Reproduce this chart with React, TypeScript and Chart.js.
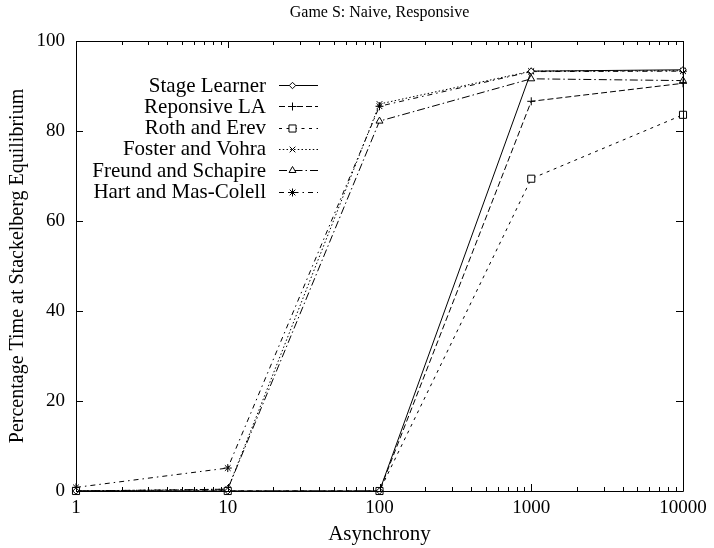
import React, { useEffect, useRef } from 'react';
import { Chart, registerables } from 'chart.js';

Chart.register(...registerables);

// Asynchrony levels (log axis) and percentage of time at the Stackelberg equilibrium
const asynchrony = [1, 10, 100, 1000, 10000];
const stageLearner = [0, 0, 0, 93.3, 93.6];
const reponsiveLA = [0, 0, 0, 86.6, 90.6];
const rothErev = [0, 0, 0, 69.4, 83.6];
const fosterVohra = [0, 0.4, 86.0, 93.3, 93.4];
const freundSchapire = [0, 0.4, 82.2, 91.6, 91.2];
const hartMasColell = [0.8, 5.1, 85.5, 93.2, 93.3];

const seriesNames = [
  'Stage Learner',
  'Reponsive LA',
  'Roth and Erev',
  'Foster and Vohra',
  'Freund and Schapire',
  'Hart and Mas-Colell',
];
const seriesValues = [stageLearner, reponsiveLA, rothErev, fosterVohra, freundSchapire, hartMasColell];

const yTicks = [0, 20, 40, 60, 80, 100];
const xTicks = asynchrony;

const chartTitle = 'Game S: Naive, Responsive';
const xTitle = 'Asynchrony';
const yTitle = 'Percentage Time at Stackelberg Equilibrium';

const FONT = '"Liberation Serif", "Times New Roman", serif';
const TICK_SIZE = 19;
const KEY_SIZE = 21;
const TITLE_SIZE = 16;

type LineStyle = { dash: number[]; marker: 'rectRot' | 'cross' | 'rect' | 'crossRot' | 'triangle' | 'star'; radius: number };

const lineStyles: LineStyle[] = [
  { dash: [], marker: 'rectRot', radius: 3.2 },
  { dash: [6, 3], marker: 'cross', radius: 4 },
  { dash: [3, 4.5], marker: 'rect', radius: 5 },
  { dash: [1.5, 2.25], marker: 'crossRot', radius: 4 },
  { dash: [8, 3, 1.5, 3], marker: 'triangle', radius: 4 },
  { dash: [5, 4, 1.5, 4], marker: 'star', radius: 4 },
];

function drawMarker(ctx: CanvasRenderingContext2D, kind: LineStyle['marker'], x: number, y: number, r: number) {
  ctx.save();
  ctx.setLineDash([]);
  ctx.lineWidth = 1;
  ctx.strokeStyle = '#000';
  ctx.fillStyle = '#fff';
  ctx.beginPath();
  const d = r * Math.SQRT1_2;
  switch (kind) {
    case 'rectRot':
      ctx.moveTo(x, y - r);
      ctx.lineTo(x + r, y);
      ctx.lineTo(x, y + r);
      ctx.lineTo(x - r, y);
      ctx.closePath();
      ctx.fill();
      ctx.stroke();
      break;
    case 'rect':
      ctx.rect(x - d, y - d, 2 * d, 2 * d);
      ctx.fill();
      ctx.stroke();
      break;
    case 'triangle': {
      const h = r * 1.5;
      ctx.moveTo(x, y - r);
      ctx.lineTo(x + h / Math.sqrt(3), y + r / 2);
      ctx.lineTo(x - h / Math.sqrt(3), y + r / 2);
      ctx.closePath();
      ctx.fill();
      ctx.stroke();
      break;
    }
    case 'cross':
      ctx.moveTo(x - r, y);
      ctx.lineTo(x + r, y);
      ctx.moveTo(x, y - r);
      ctx.lineTo(x, y + r);
      ctx.stroke();
      break;
    case 'crossRot':
      ctx.moveTo(x - d, y - d);
      ctx.lineTo(x + d, y + d);
      ctx.moveTo(x - d, y + d);
      ctx.lineTo(x + d, y - d);
      ctx.stroke();
      break;
    case 'star':
      ctx.moveTo(x - r, y);
      ctx.lineTo(x + r, y);
      ctx.moveTo(x, y - r);
      ctx.lineTo(x, y + r);
      ctx.moveTo(x - d, y - d);
      ctx.lineTo(x + d, y + d);
      ctx.moveTo(x - d, y + d);
      ctx.lineTo(x + d, y - d);
      ctx.stroke();
      break;
  }
  ctx.restore();
}

// Frame with inward ticks on all four sides, the title and the key.
const framePlugin = {
  id: 'frameAndKey',
  afterDraw(chart: Chart) {
    const { ctx, chartArea } = chart;
    const { left, right, top, bottom } = chartArea;
    const xs = chart.scales.x;
    const ys = chart.scales.y;
    ctx.save();
    ctx.strokeStyle = '#000';
    ctx.lineWidth = 1;
    ctx.setLineDash([]);
    ctx.beginPath();
    ctx.rect(Math.round(left) + 0.5, Math.round(top) + 0.5, Math.round(right - left), Math.round(bottom - top));
    ctx.stroke();

    const major = 7;
    const minor = 4;
    ctx.beginPath();
    for (const v of yTicks) {
      const py = Math.round(ys.getPixelForValue(v)) + 0.5;
      ctx.moveTo(left, py);
      ctx.lineTo(left + major, py);
      ctx.moveTo(right, py);
      ctx.lineTo(right - major, py);
    }
    for (const v of xTicks) {
      const px = Math.round(xs.getPixelForValue(v)) + 0.5;
      ctx.moveTo(px, bottom);
      ctx.lineTo(px, bottom - major);
      ctx.moveTo(px, top);
      ctx.lineTo(px, top + major);
    }
    for (let i = 0; i < xTicks.length - 1; i++) {
      for (let k = 2; k <= 9; k++) {
        const px = Math.round(xs.getPixelForValue(xTicks[i] * k)) + 0.5;
        ctx.moveTo(px, bottom);
        ctx.lineTo(px, bottom - minor);
        ctx.moveTo(px, top);
        ctx.lineTo(px, top + minor);
      }
    }
    ctx.stroke();

    ctx.fillStyle = '#000';
    ctx.font = `${TITLE_SIZE}px ${FONT}`;
    ctx.textAlign = 'center';
    ctx.textBaseline = 'middle';
    ctx.fillText(chartTitle, (left + right) / 2, top - 28);

    // key
    ctx.font = `${KEY_SIZE}px ${FONT}`;
    const textRight = left + 190;
    const lineStart = left + 203;
    const lineEnd = left + 242;
    const markerX = left + 216.5;
    ctx.textAlign = 'right';
    seriesNames.forEach((name, i) => {
      const y = top + 44 + i * 21.3;
      ctx.fillStyle = '#000';
      ctx.fillText(name, textRight, y + 1);
      const st = lineStyles[i];
      ctx.beginPath();
      ctx.setLineDash(st.dash);
      ctx.moveTo(lineStart, Math.round(y) + 0.5);
      ctx.lineTo(lineEnd, Math.round(y) + 0.5);
      ctx.stroke();
      ctx.setLineDash([]);
      drawMarker(ctx, st.marker, markerX, Math.round(y) + 0.5, st.radius);
    });
    ctx.restore();
  },
};

export default function App() {
  const canvasRef = useRef<HTMLCanvasElement | null>(null);

  useEffect(() => {
    const canvas = canvasRef.current;
    if (!canvas) return;
    const tickFont = { family: FONT, size: TICK_SIZE, lineHeight: 1.2 };
    const chart = new Chart(canvas, {
      type: 'line',
      data: {
        datasets: seriesNames.map((name, i) => ({
          label: name,
          data: seriesValues[i].map((v, j) => ({ x: asynchrony[j], y: v })),
          borderColor: '#000',
          borderWidth: 1,
          borderDash: lineStyles[i].dash,
          backgroundColor: '#fff',
          pointStyle: lineStyles[i].marker,
          pointRadius: lineStyles[i].radius,
          pointBorderWidth: 1,
          pointBorderColor: '#000',
          pointBackgroundColor: '#fff',
          tension: 0,
          fill: false,
          clip: false,
        })),
      },
      options: {
        responsive: false,
        animation: false,
        devicePixelRatio: 1,
        layout: { padding: { top: 41, right: 31, left: 0, bottom: 0 } },
        plugins: {
          legend: { display: false },
          title: { display: false },
          tooltip: { enabled: false },
        },
        scales: {
          x: {
            type: 'logarithmic',
            min: 1,
            max: 10000,
            grid: { display: false, drawTicks: false },
            border: { display: false },
            afterBuildTicks: (s: any) => {
              s.ticks = xTicks.map((v) => ({ value: v }));
            },
            afterFit: (s: any) => {
              s.height = 57;
            },
            ticks: {
              font: tickFont,
              color: '#000',
              padding: 6,
              maxRotation: 0,
              autoSkip: false,
              callback: (v: any) => String(v),
            },
            title: {
              display: true,
              text: xTitle,
              font: { family: FONT, size: 21, lineHeight: 1.2 },
              color: '#000',
              padding: { top: 0, bottom: 1 },
            },
          },
          y: {
            min: 0,
            max: 100,
            grid: { display: false, drawTicks: false },
            border: { display: false },
            afterBuildTicks: (s: any) => {
              s.ticks = yTicks.map((v) => ({ value: v }));
            },
            afterFit: (s: any) => {
              s.width = 76;
            },
            ticks: {
              font: tickFont,
              color: '#000',
              padding: 11,
              callback: (v: any) => String(v),
            },
            title: {
              display: true,
              text: yTitle,
              font: { family: FONT, size: 20, lineHeight: 1.2 },
              color: '#000',
              padding: { top: 6, bottom: 0 },
            },
          },
        },
      },
      plugins: [framePlugin],
    } as any);
    return () => chart.destroy();
  }, []);

  return (
    <div style={{ position: 'absolute', left: 0, top: 0, width: 714, height: 548, background: '#fff' }}>
      <canvas ref={canvasRef} width={714} height={548} />
    </div>
  );
}
